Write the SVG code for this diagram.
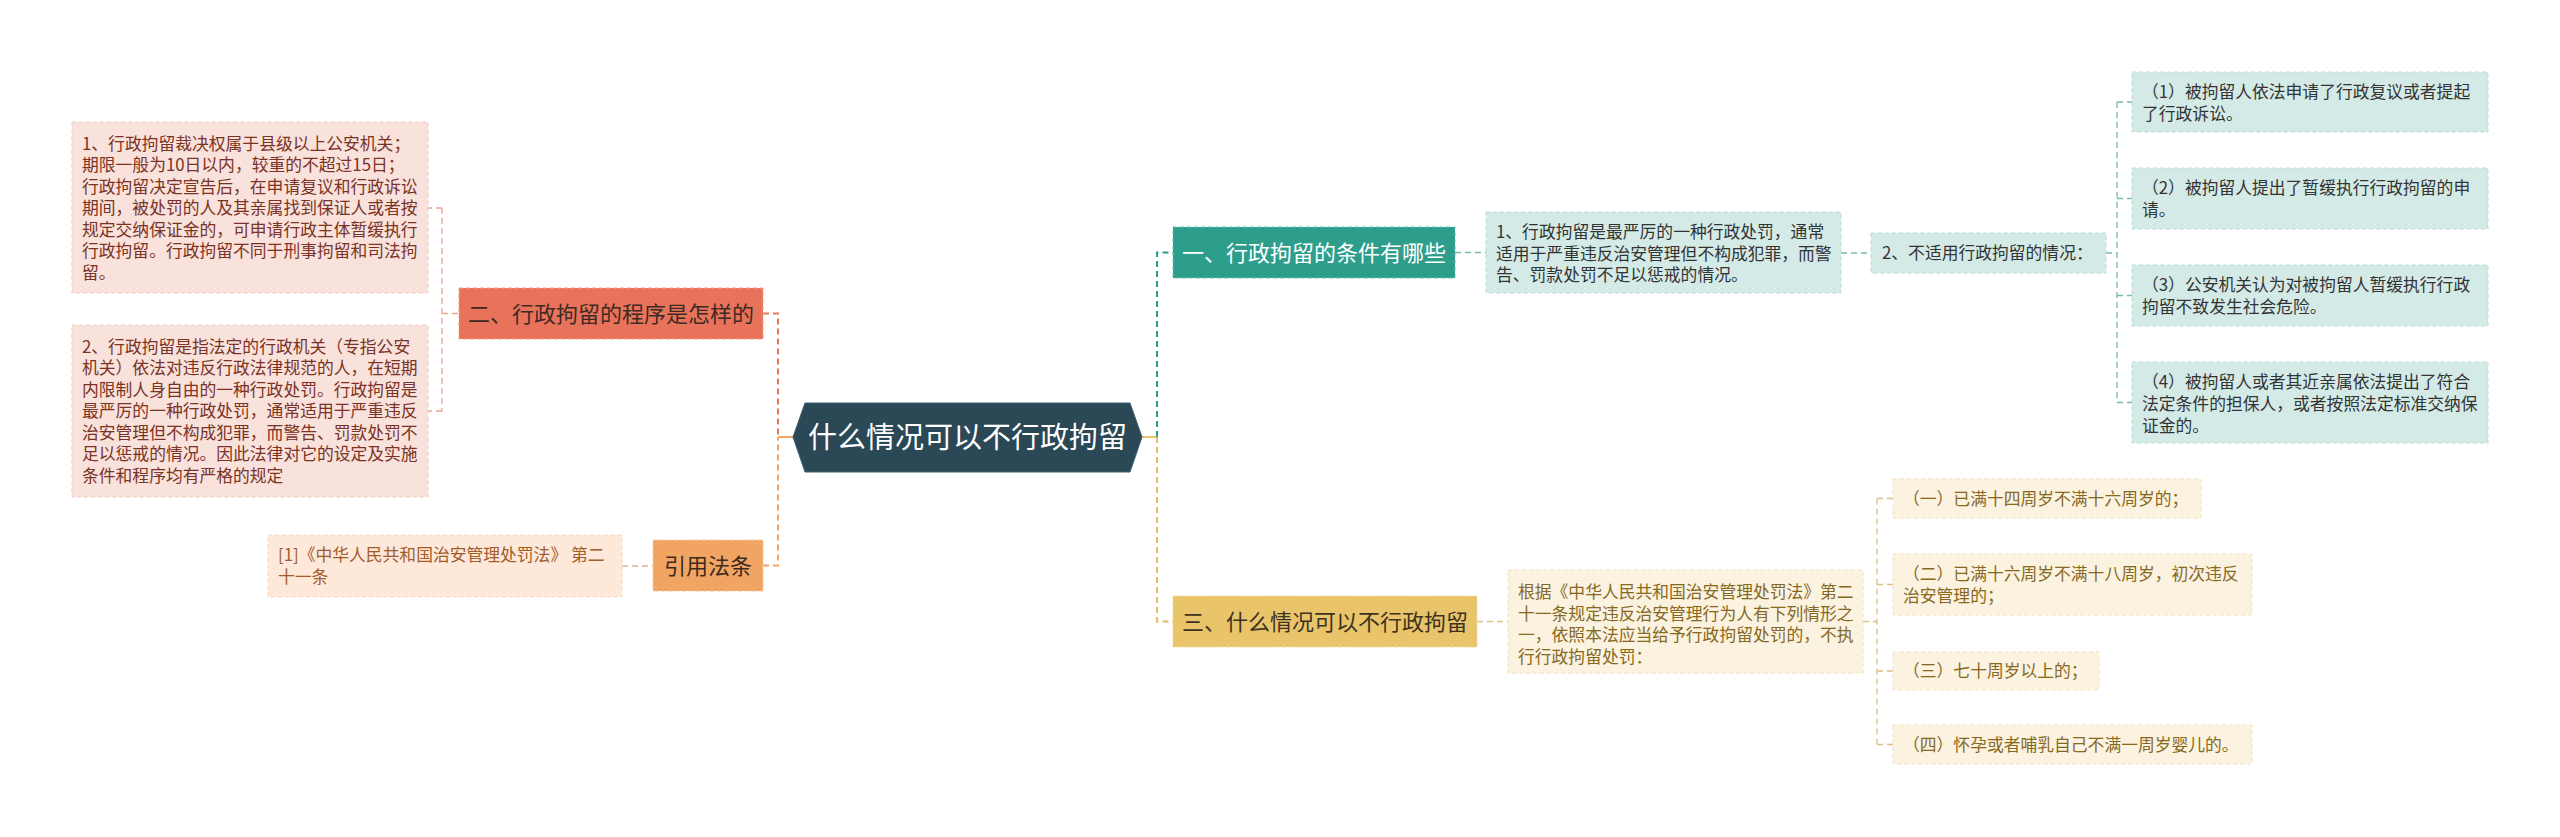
<svg xmlns="http://www.w3.org/2000/svg" width="2560" height="837" viewBox="0 0 2560 837">
<style>
text{font-family:"Noto Sans CJK SC","Noto Sans",sans-serif;}
.t{font-size:16.8px;}
.b{font-size:22px;}
.c{font-size:29px;fill:#ffffff;}
.dash{fill:none;stroke-dasharray:6 4;}
.bd{stroke-dasharray:4 3;stroke-width:1;}
</style>
<rect width="2560" height="837" fill="#ffffff"/>
<g id="connectors">
  <path class="dash" d="M442,208 H428 M442,411 H428 M442,208 V411 M442,313.5 H459" stroke="#e7a394" stroke-width="1.3"/>
  <path class="dash" d="M763,313.5 H778 V437" stroke="#e8785c" stroke-width="2"/>
  <path class="dash" d="M763,565.5 H778 V437" stroke="#f0a465" stroke-width="2"/>
  <path d="M778,437 H793" stroke="#f0a465" stroke-width="2" fill="none"/>
  <path class="dash" d="M622,566 H653" stroke="#e2b08f" stroke-width="1.3"/>
  <path d="M1142,437 H1157" stroke="#e9c46a" stroke-width="2" fill="none"/>
  <path class="dash" d="M1157,437 V252.5 H1173" stroke="#2a9d8f" stroke-width="2"/>
  <path class="dash" d="M1157,437 V621.5 H1173" stroke="#e2bd62" stroke-width="2"/>
  <path class="dash" d="M1455,252.5 H1486 M1841,253 H1871" stroke="#78b9b0" stroke-width="1.3"/>
  <path class="dash" d="M2106,253 H2117 M2117,102 V402.5 M2117,102 H2132 M2117,198.5 H2132 M2117,295.5 H2132 M2117,402.5 H2132" stroke="#78b9b0" stroke-width="1.3"/>
  <path class="dash" d="M1477,621.5 H1508 M1863,621.5 H1877 M1877,498.5 V744.5 M1877,498.5 H1893 M1877,584.5 H1893 M1877,671 H1893 M1877,744.5 H1893" stroke="#dcc084" stroke-width="1.3"/>
</g>
<g id="root">
  <path d="M793,437 L805,403 L1130,403 L1142,437 L1130,472 L805,472 Z" fill="#2a4856" stroke="#3d5e6c" stroke-width="1"/>
  <text class="c" x="967.5" y="447.5" text-anchor="middle">什么情况可以不行政拘留</text>
</g>
<g id="n2">
  <rect x="459" y="288" width="304" height="51" fill="#e8735a" stroke="#f0a08c" class="bd"/>
  <text class="b" x="611" y="322" text-anchor="middle" fill="#3e2a24">二、行政拘留的程序是怎样的</text>
</g>
<g id="n2a">
  <rect x="72" y="122" width="356" height="171" fill="#f9e1dc" stroke="#f0cbc2" class="bd"/>
  <text class="t" fill="#7a3324">
    <tspan x="82" y="149.5">1、行政拘留裁决权属于县级以上公安机关；</tspan>
    <tspan x="82" y="171">期限一般为10日以内，较重的不超过15日；</tspan>
    <tspan x="82" y="192.5">行政拘留决定宣告后，在申请复议和行政诉讼</tspan>
    <tspan x="82" y="214">期间，被处罚的人及其亲属找到保证人或者按</tspan>
    <tspan x="82" y="235.5">规定交纳保证金的，可申请行政主体暂缓执行</tspan>
    <tspan x="82" y="257">行政拘留。行政拘留不同于刑事拘留和司法拘</tspan>
    <tspan x="82" y="278.5">留。</tspan>
  </text>
</g>
<g id="n2b">
  <rect x="72" y="325" width="356" height="172" fill="#f9e1dc" stroke="#f0cbc2" class="bd"/>
  <text class="t" fill="#7a3324">
    <tspan x="82" y="352.5">2、行政拘留是指法定的行政机关（专指公安</tspan>
    <tspan x="82" y="374">机关）依法对违反行政法律规范的人，在短期</tspan>
    <tspan x="82" y="395.5">内限制人身自由的一种行政处罚。行政拘留是</tspan>
    <tspan x="82" y="417">最严厉的一种行政处罚，通常适用于严重违反</tspan>
    <tspan x="82" y="438.5">治安管理但不构成犯罪，而警告、罚款处罚不</tspan>
    <tspan x="82" y="460">足以惩戒的情况。因此法律对它的设定及实施</tspan>
    <tspan x="82" y="481.5">条件和程序均有严格的规定</tspan>
  </text>
</g>
<g id="ref">
  <rect x="653" y="540" width="110" height="51" fill="#f2a462" stroke="#f7c49a" class="bd"/>
  <text class="b" x="708" y="574" text-anchor="middle" fill="#3d2a1e">引用法条</text>
</g>
<g id="refa">
  <rect x="268" y="535" width="354" height="62" fill="#fde8da" stroke="#f6d6c0" class="bd"/>
  <text class="t" fill="#a25c2a">
    <tspan x="278" y="561">[1]《中华人民共和国治安管理处罚法》 第二</tspan>
    <tspan x="278" y="583">十一条</tspan>
  </text>
</g>
<g id="n1">
  <rect x="1173" y="227" width="282" height="51" fill="#2e9e8c" stroke="#6cc0b2" class="bd"/>
  <text class="b" x="1314" y="261" text-anchor="middle" fill="#ffffff">一、行政拘留的条件有哪些</text>
</g>
<g id="n1a">
  <rect x="1486" y="212" width="355" height="81" fill="#d4eae7" stroke="#bcdcd7" class="bd"/>
  <text class="t" fill="#333333">
    <tspan x="1496" y="238">1、行政拘留是最严厉的一种行政处罚，通常</tspan>
    <tspan x="1496" y="259.5">适用于严重违反治安管理但不构成犯罪，而警</tspan>
    <tspan x="1496" y="281">告、罚款处罚不足以惩戒的情况。</tspan>
  </text>
</g>
<g id="n1b">
  <rect x="1871" y="233" width="235" height="40" fill="#d4eae7" stroke="#bcdcd7" class="bd"/>
  <text class="t" x="1882" y="259" fill="#333333">2、不适用行政拘留的情况：</text>
</g>
<g id="n1b1">
  <rect x="2132" y="72" width="356" height="60" fill="#d4eae7" stroke="#bcdcd7" class="bd"/>
  <text class="t" fill="#333333">
    <tspan x="2142" y="98">（1）被拘留人依法申请了行政复议或者提起</tspan>
    <tspan x="2142" y="120">了行政诉讼。</tspan>
  </text>
</g>
<g id="n1b2">
  <rect x="2132" y="168" width="356" height="61" fill="#d4eae7" stroke="#bcdcd7" class="bd"/>
  <text class="t" fill="#333333">
    <tspan x="2142" y="194">（2）被拘留人提出了暂缓执行行政拘留的申</tspan>
    <tspan x="2142" y="216">请。</tspan>
  </text>
</g>
<g id="n1b3">
  <rect x="2132" y="265" width="356" height="61" fill="#d4eae7" stroke="#bcdcd7" class="bd"/>
  <text class="t" fill="#333333">
    <tspan x="2142" y="291">（3）公安机关认为对被拘留人暂缓执行行政</tspan>
    <tspan x="2142" y="313">拘留不致发生社会危险。</tspan>
  </text>
</g>
<g id="n1b4">
  <rect x="2132" y="362" width="356" height="81" fill="#d4eae7" stroke="#bcdcd7" class="bd"/>
  <text class="t" fill="#333333">
    <tspan x="2142" y="388">（4）被拘留人或者其近亲属依法提出了符合</tspan>
    <tspan x="2142" y="410">法定条件的担保人，或者按照法定标准交纳保</tspan>
    <tspan x="2142" y="432">证金的。</tspan>
  </text>
</g>
<g id="n3">
  <rect x="1173" y="596" width="304" height="51" fill="#e9c46a" stroke="#f2d895" class="bd"/>
  <text class="b" x="1325" y="630" text-anchor="middle" fill="#3d3320">三、什么情况可以不行政拘留</text>
</g>
<g id="n3a">
  <rect x="1508" y="570" width="355" height="103" fill="#fbf2df" stroke="#f1e2c1" class="bd"/>
  <text class="t" fill="#86691f">
    <tspan x="1518" y="598">根据《中华人民共和国治安管理处罚法》第二</tspan>
    <tspan x="1518" y="619.5">十一条规定违反治安管理行为人有下列情形之</tspan>
    <tspan x="1518" y="641">一，依照本法应当给予行政拘留处罚的，不执</tspan>
    <tspan x="1518" y="662.5">行行政拘留处罚：</tspan>
  </text>
</g>
<g id="n3a1">
  <rect x="1893" y="479" width="308" height="39" fill="#fbf2df" stroke="#f1e2c1" class="bd"/>
  <text class="t" x="1903" y="504.5" fill="#86691f">（一）已满十四周岁不满十六周岁的；</text>
</g>
<g id="n3a2">
  <rect x="1893" y="554" width="359" height="61" fill="#fbf2df" stroke="#f1e2c1" class="bd"/>
  <text class="t" fill="#86691f">
    <tspan x="1903" y="580">（二）已满十六周岁不满十八周岁，初次违反</tspan>
    <tspan x="1903" y="602">治安管理的；</tspan>
  </text>
</g>
<g id="n3a3">
  <rect x="1893" y="652" width="206" height="38" fill="#fbf2df" stroke="#f1e2c1" class="bd"/>
  <text class="t" x="1903" y="677" fill="#86691f">（三）七十周岁以上的；</text>
</g>
<g id="n3a4">
  <rect x="1893" y="725" width="359" height="39" fill="#fbf2df" stroke="#f1e2c1" class="bd"/>
  <text class="t" x="1903" y="750.5" fill="#86691f">（四）怀孕或者哺乳自己不满一周岁婴儿的。</text>
</g>
</svg>
